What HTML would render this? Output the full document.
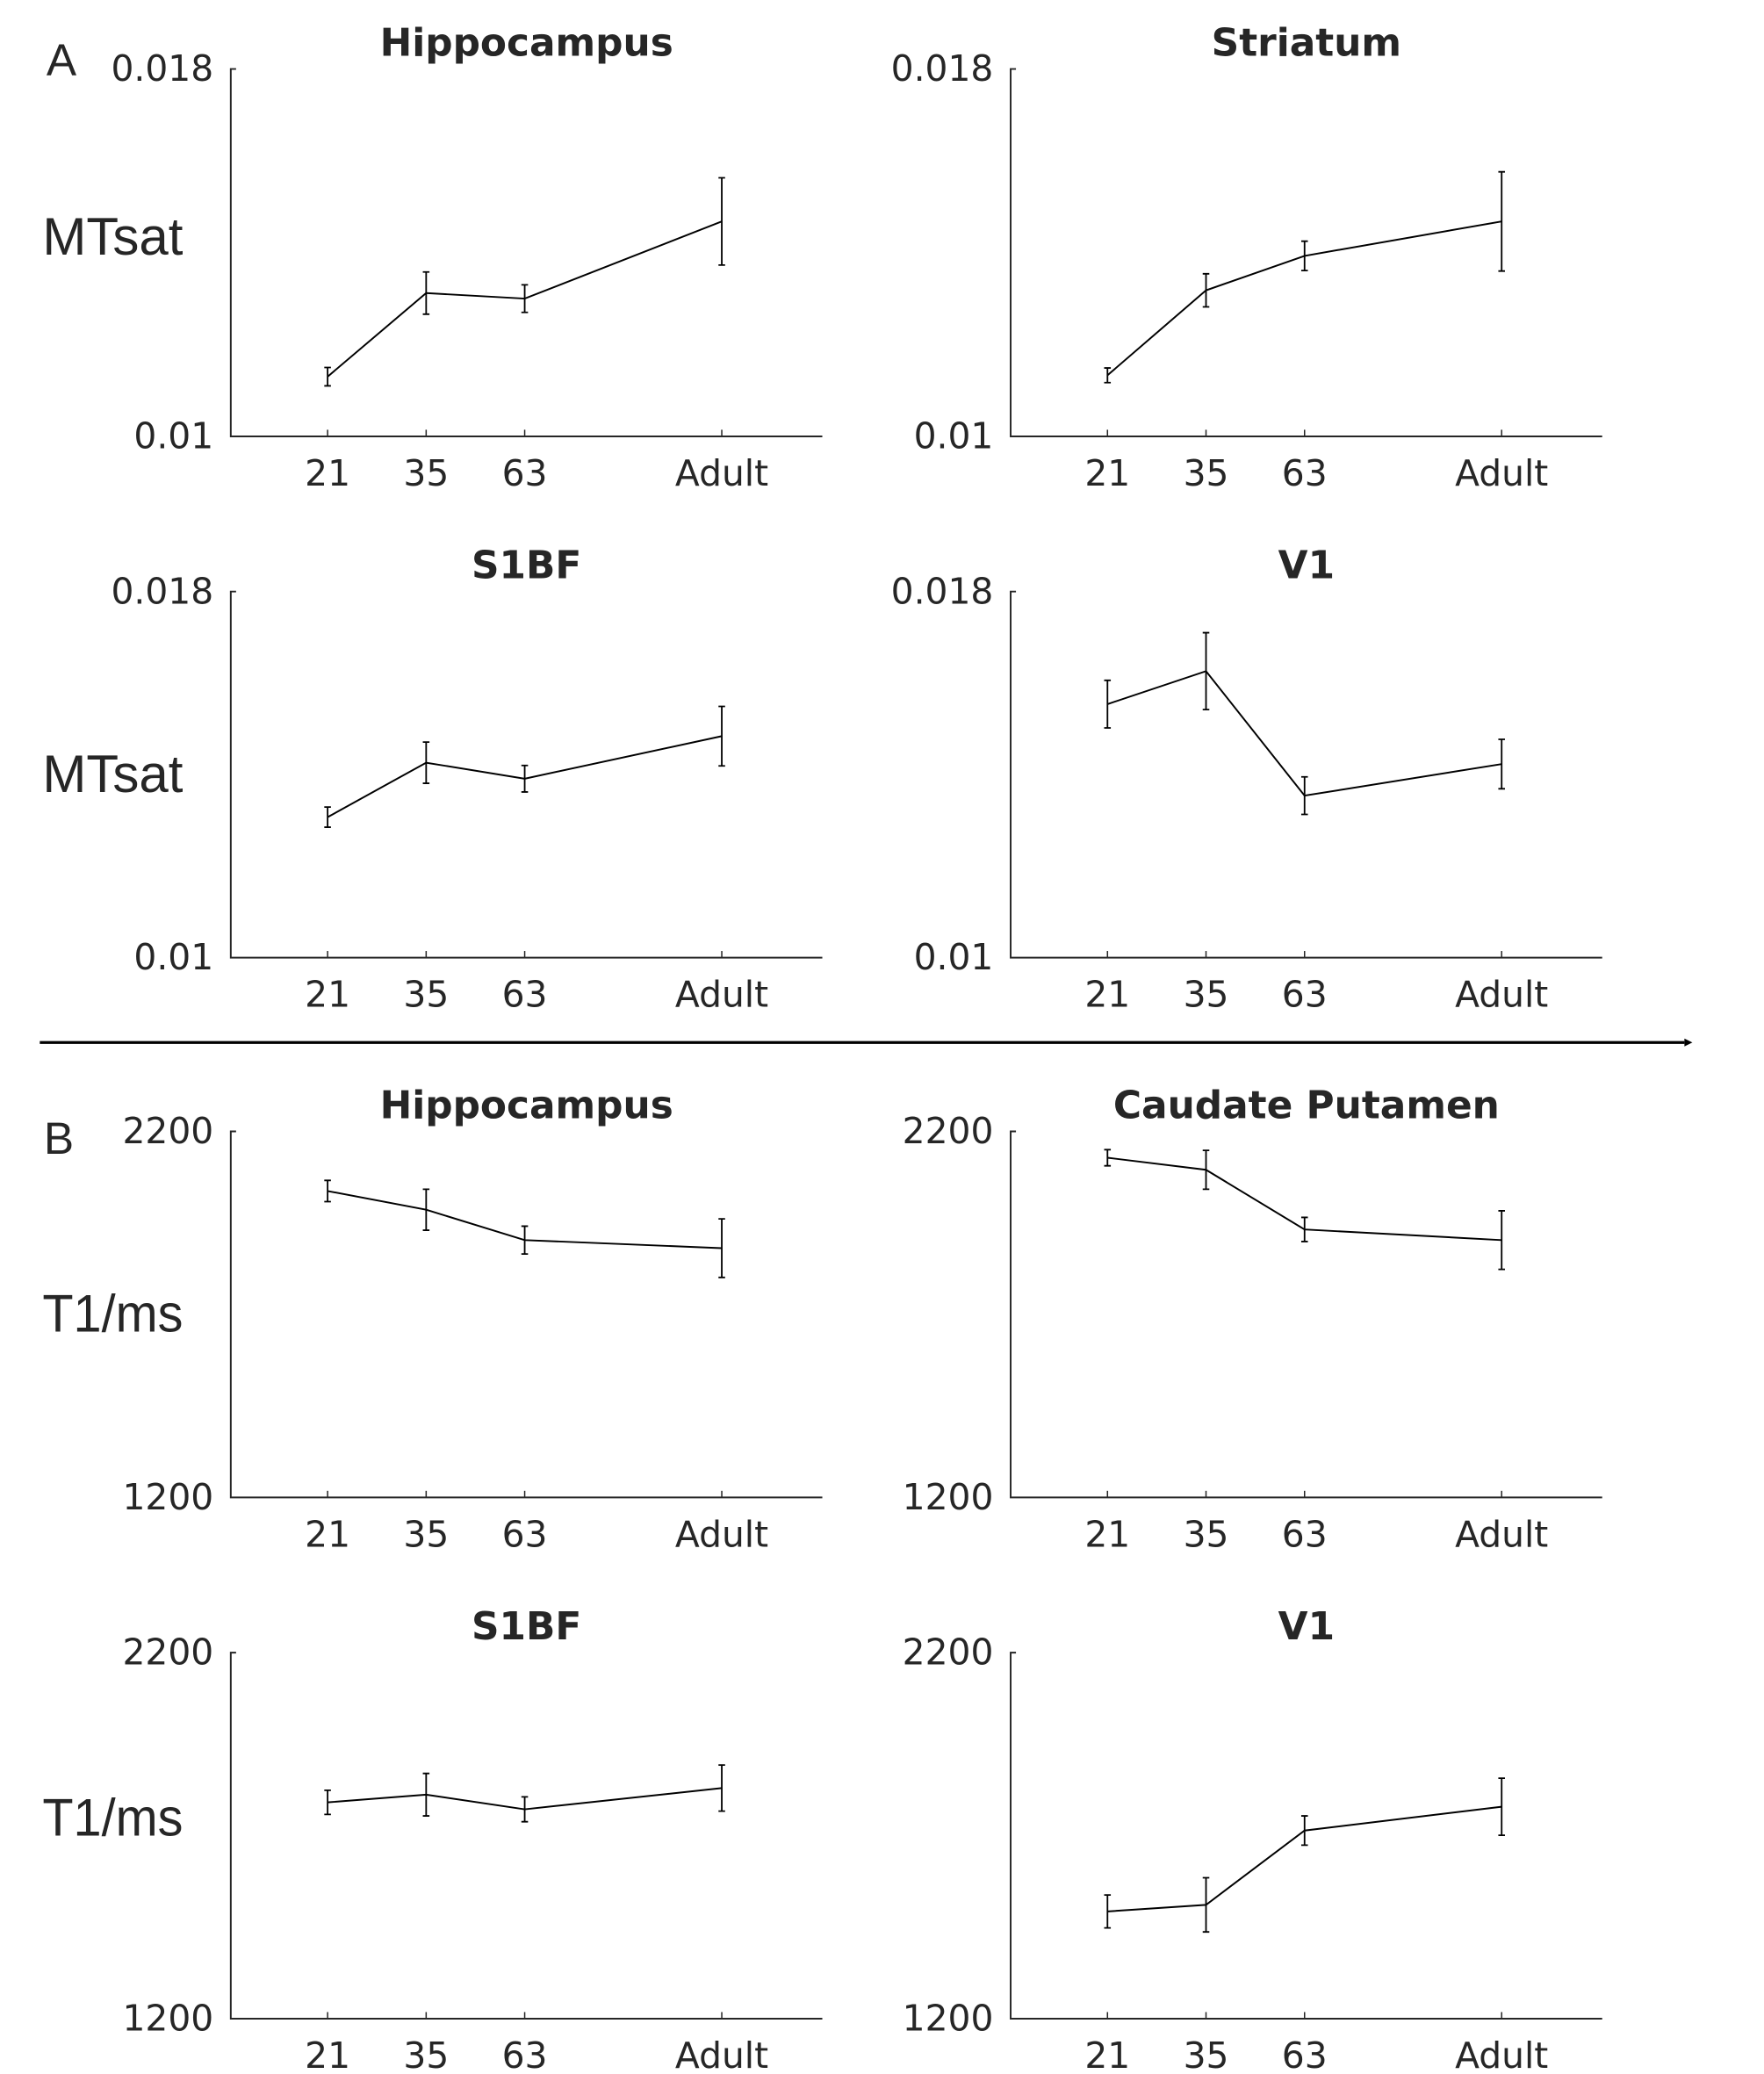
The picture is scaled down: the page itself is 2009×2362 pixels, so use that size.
<!DOCTYPE html>
<html><head><meta charset="utf-8"><style>
html,body{margin:0;padding:0;background:#fff;}
svg{display:block;}
text{font-family:"DejaVu Sans","Liberation Sans",sans-serif;fill:#262626;}
</style></head><body>
<svg id="fig" width="2009" height="2362" viewBox="0 0 1330 1563.7" xmlns="http://www.w3.org/2000/svg">
<text x="35" y="57" font-size="34" style="font-family:'Liberation Sans',sans-serif">A</text>
<text x="33" y="870" font-size="34" style="font-family:'Liberation Sans',sans-serif">B</text>
<line x1="30" y1="786" x2="1270" y2="786" stroke="#000" stroke-width="2.2"/>
<polygon points="1270,783 1276,786 1270,789" fill="#000"/>
<g id="plots"></g>
</svg>
<script>
const categories = ["21","35","63","Adult"];
const catPos = [0, 1, 2, 4];
const hippoMT = [0.0113, 0.01312, 0.01300, 0.01468];
const hippoMTErr = [0.0002, 0.00046, 0.0003, 0.00095];
const striatumMT = [0.01133, 0.01318, 0.01393, 0.01468];
const striatumMTErr = [0.00016, 0.00036, 0.00032, 0.00108];
const s1bfMT = [0.01307, 0.01426, 0.01391, 0.01484];
const s1bfMTErr = [0.00022, 0.00045, 0.00029, 0.00065];
const v1MT = [0.01554, 0.01626, 0.01354, 0.01423];
const v1MTErr = [0.00052, 0.00084, 0.00041, 0.00054];
const hippoT1 = [2037, 1986, 1903, 1881];
const hippoT1Err = [29, 56, 38, 80];
const caudateT1 = [2128, 2095, 1932, 1903];
const caudateT1Err = [22, 53, 33, 80];
const s1bfT1 = [1791, 1812, 1772, 1830];
const s1bfT1Err = [33, 58, 34, 63];
const v1T1 = [1493, 1511, 1714, 1779];
const v1T1Err = [45, 74, 40, 78];
const mtTicks = ["0.01", "0.018"];
const mtRange = [0.01, 0.018];
const t1Ticks = ["1200", "2200"];
const t1Range = [1200, 2200];

const NS = "http://www.w3.org/2000/svg";
const root = document.getElementById("plots");
function mk(tag, attrs, parent, txt) {
  const e = document.createElementNS(NS, tag);
  for (const k in attrs) e.setAttribute(k, attrs[k]);
  if (txt !== undefined) e.textContent = txt;
  parent.appendChild(e);
  return e;
}
const panels = [
  {t:"Hippocampus", v:hippoMT, e:hippoMTErr, r:mtRange, tk:mtTicks, x0:174, top:52, bot:329, yl:"MTsat", ly:178, n:"hippocampus-mtsat"},
  {t:"Striatum", v:striatumMT, e:striatumMTErr, r:mtRange, tk:mtTicks, x0:762, top:52, bot:329, n:"striatum-mtsat"},
  {t:"S1BF", v:s1bfMT, e:s1bfMTErr, r:mtRange, tk:mtTicks, x0:174, top:446, bot:722, yl:"MTsat", ly:583, n:"s1bf-mtsat"},
  {t:"V1", v:v1MT, e:v1MTErr, r:mtRange, tk:mtTicks, x0:762, top:446, bot:722, n:"v1-mtsat"},
  {t:"Hippocampus", v:hippoT1, e:hippoT1Err, r:t1Range, tk:t1Ticks, x0:174, top:853, bot:1129, yl:"T1/ms", ly:990, n:"hippocampus-t1"},
  {t:"Caudate Putamen", v:caudateT1, e:caudateT1Err, r:t1Range, tk:t1Ticks, x0:762, top:853, bot:1129, n:"caudate-t1"},
  {t:"S1BF", v:s1bfT1, e:s1bfT1Err, r:t1Range, tk:t1Ticks, x0:174, top:1246, bot:1522, yl:"T1/ms", ly:1370, n:"s1bf-t1"},
  {t:"V1", v:v1T1, e:v1T1Err, r:t1Range, tk:t1Ticks, x0:762, top:1246, bot:1522, n:"v1-t1"}
];
panels.forEach(p => {
  const g = mk("g", {}, root);
  
  
  const W = 446;
  const xs = i => p.x0 + 73 + catPos[i] * 74.3;
  const ys = v => p.bot - (v - p.r[0]) / (p.r[1] - p.r[0]) * (p.bot - p.top);
  const ax = mk("path", {d:`M${p.x0+4},${p.top} H${p.x0} V${p.bot} H${p.x0+W}`, fill:"none", stroke:"#262626", "stroke-width":1.3}, g);
  
  
  const tt = mk("text", {x:p.x0+223, y:p.top-10, "font-size":29, "font-weight":"bold", "text-anchor":"middle", fill:"#000"}, g, p.t);
  
  
  const yt1 = mk("text", {x:p.x0-13, y:p.bot+9, "font-size":27, "text-anchor":"end"}, g, p.tk[0]);
  
  
  const yt2 = mk("text", {x:p.x0-13, y:p.top+9, "font-size":27, "text-anchor":"end"}, g, p.tk[1]);
  
  
  if (p.yl) {
    const yl = mk("text", {x:32, y:p.ly+14, "font-size":40, textLength:106, lengthAdjust:"spacingAndGlyphs", style:"font-family:'Liberation Sans',sans-serif"}, g, p.yl);
    
    
  }
  categories.forEach((c, i) => {
    const tk = mk("line", {x1:xs(i), x2:xs(i), y1:p.bot, y2:p.bot-5, stroke:"#262626", "stroke-width":1}, g);
    
    
    const tl = mk("text", {x:xs(i), y:p.bot+37, "font-size":27, "text-anchor":"middle"}, g, c);
    
    
  });
  const pts = p.v.map((v, i) => `${xs(i)},${ys(v)}`).join(" ");
  const ln = mk("polyline", {points:pts, fill:"none", stroke:"#000", "stroke-width":1.3}, g);
  
  
  p.v.forEach((v, i) => {
    const x = xs(i), y1 = ys(v + p.e[i]), y2 = ys(v - p.e[i]);
    const eb = mk("path", {d:`M${x},${y1} V${y2} M${x-2.5},${y1} H${x+2.5} M${x-2.5},${y2} H${x+2.5}`, fill:"none", stroke:"#000", "stroke-width":1.2}, g);
    
    
  });
});
</script>
</body></html>
